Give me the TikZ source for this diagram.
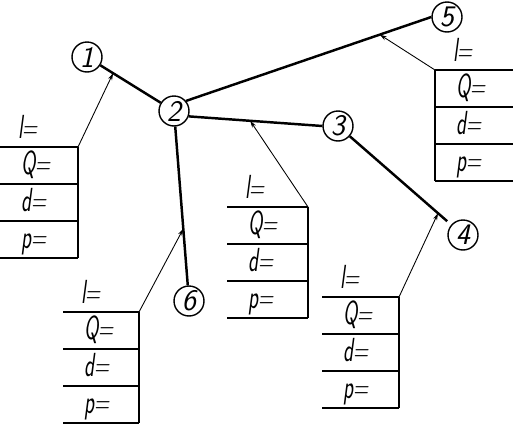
\documentclass[tikz,border=0pt]{standalone}
\usepackage{tikz}
\usetikzlibrary{arrows.meta,calc}
\newcommand\gost[1]{\scalebox{0.62}[1]{\sffamily\itshape #1}}
\tikzset{
  pnode/.style={circle,draw,line width=0.8pt,minimum size=0.6cm,inner sep=0pt,
    font=\sffamily\itshape\fontsize{17}{17}\selectfont},
  pipe/.style={line width=1.4pt},
  leader/.style={line width=0.5pt,-{Stealth[length=4pt,width=2.4pt]}},
  cell/.style={anchor=base west,inner sep=0pt,font=\fontsize{19}{19}\selectfont}
}

\begin{document}
\begin{tikzpicture}[x=0.02cm,y=-0.02cm]
    \useasboundingbox (0,0) rectangle (513,423);
    % junctions
    \node[pnode] (n1) at (87,57) {1};
    \node[pnode] (n2) at (174,111) {2};
    \node[pnode] (n3) at (338,126) {3};
    \node[pnode] (n4) at (463,235) {4};
    \node[pnode] (n5) at (447,17) {5};
    \node[pnode] (n6) at (189,301) {6};
    % pipes
    \draw[pipe] (n1)--(n2);
    \draw[pipe] (n2.40)--(n5.west);
    \draw[pipe] (n2.-20)--(n3.west);
    \draw[pipe] (n2)--(n6);
    \draw[pipe,shorten >=3pt] (n3)--(n4);
    \coordinate (a12) at ($(n1)!0.30!(n2)$);
    \coordinate (a25) at ($(n2.40)!0.79!(n5.west)$);
    \coordinate (a23) at ($(n2.-20)!0.46!(n3.west)$);
    \coordinate (a26) at ($(n2)!0.62!(n6)$);
    \coordinate (a34) at ($(n3)!0.80!(n4)$);
    % tables
    \foreach \xl/\yt/\xr/\xb/\on [count=\i] in {0/147/78/78/a12, 227/207/308/308/a23,
        435/70/513/435/a25, 322/297/399/399/a34, 63/312/139/139/a26} {
        \foreach \k in {0,1,2,3} \draw[line width=0.7pt] (\xl,\yt+37*\k)--(\xr,\yt+37*\k);
        \draw[line width=0.7pt] (\xb,\yt)--(\xb,\yt+111);
        \coordinate (t\i) at (\xb,\yt);
        \draw[leader] (t\i)--(\on);
        \node[cell] (l\i) at (\xl+18,\yt-9) {\gost{l=}};
        \node[cell] (q\i) at (\xl+21,\yt+27) {\gost{Q=}};
        \node[cell] (d\i) at (\xl+21,\yt+64) {\gost{d=}};
        \node[cell] (p\i) at (\xl+21,\yt+101) {\gost{p=}};
    }
\end{tikzpicture}
\end{document}
